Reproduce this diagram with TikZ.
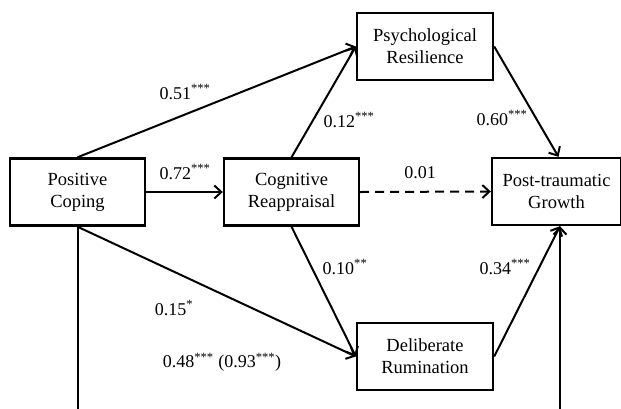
\documentclass[tikz,border=0pt]{standalone}
\usepackage{fontspec}
\setmainfont{Liberation Serif}
\usetikzlibrary{arrows.meta}
\tikzset{
  box/.style={draw, line width=2.4pt, minimum width=135pt, minimum height=67pt, align=center, inner sep=0pt, font=\fontsize{18.5}{22}\selectfont, fill=white},
  lbl/.style={font=\fontsize{18}{21}\selectfont, inner sep=0pt},
  conn/.style={line width=2pt, -{Straight Barb[length=7pt, width=13pt, line width=2pt]}},
}
\newcommand{\stars}[1]{\textsuperscript{#1}}
\begin{document}
\begin{tikzpicture}[x=1pt, y=-1pt]
\useasboundingbox (0,0) rectangle (621,408);
\clip (0,0) rectangle (621,408);
\fill[white] (0,0) rectangle (621,408);
\node[box] (PC) at (77.5,192) {Positive\\Coping};
\node[box] (CR) at (291.5,192) {Cognitive\\Reappraisal};
\node[box, minimum width=129pt] (PTG) at (556.5,191.5) {Post-traumatic\\Growth};
\node[box, minimum width=136pt] (DR) at (425,356.5) {Deliberate\\Rumination};
\node[box, minimum width=136pt] (PR) at (425,46.5) {Psychological\\Resilience};
\coordinate (ptgs) at ([xshift=3.5pt]PTG.south);
\coordinate (dn1) at (PC.south |- 0,440);
\coordinate (dn2) at (ptgs |- 0,440);
\draw[conn] (PC.north) -- (PR.west);
\draw[conn] (CR.north) -- (PR.west);
\draw[conn] (PC.east) -- (CR.west);
\draw[conn, dashed, dash pattern=on 9pt off 6pt] (CR.east) -- (PTG.west);
\draw[conn] (PR.east) -- ([xshift=2pt]PTG.north);
\draw[conn] (CR.south) -- (DR.west);
\draw[conn] (PC.south) -- (DR.west);
\draw[conn] (DR.east) -- (ptgs);
\draw[conn] (PC.south) -- (dn1) -- (dn2) -- (ptgs);
\node[lbl] (l51) at (185,92) {0.51\stars{***}};
\node[lbl] (l12) at (349,120) {0.12\stars{***}};
\node[lbl] (l60) at (502,118) {0.60\stars{***}};
\node[lbl] (l72) at (185,172) {0.72\stars{***}};
\node[lbl] (l01) at (420,173) {0.01};
\node[lbl] (l10) at (345,267) {0.10\stars{**}};
\node[lbl] (l34) at (505,267) {0.34\stars{***}};
\node[lbl] (l15) at (174,308) {0.15\stars{*}};
\node[lbl] (l48) at (222,362) {0.48\stars{***} (0.93\stars{***})};
\end{tikzpicture}
\end{document}
